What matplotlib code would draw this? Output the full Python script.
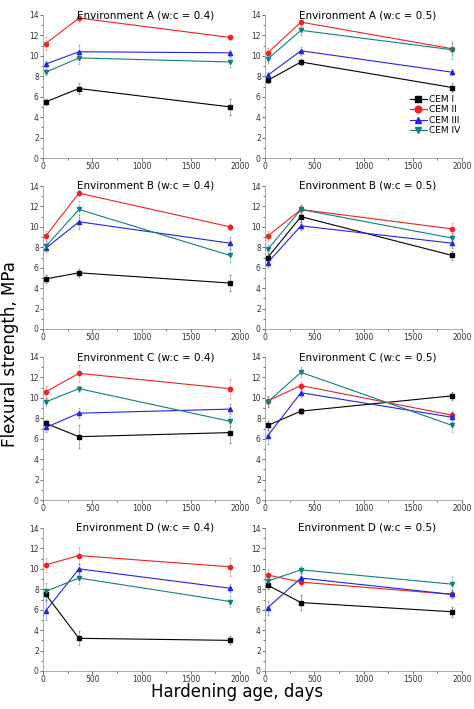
import matplotlib
matplotlib.use("Agg")
import matplotlib.pyplot as plt
from matplotlib.ticker import AutoMinorLocator

days = [28, 365, 1900]
series = ["CEM I", "CEM II", "CEM III", "CEM IV"]
colors = ["black", "#ee2222", "#2222ee", "#117f7f"]
markers = ["s", "o", "^", "v"]
titles = ["Environment A (w:c = 0.4)", "Environment A (w:c = 0.5)",
          "Environment B (w:c = 0.4)", "Environment B (w:c = 0.5)",
          "Environment C (w:c = 0.4)", "Environment C (w:c = 0.5)",
          "Environment D (w:c = 0.4)", "Environment D (w:c = 0.5)"]

A04 = [[5.5, 6.8, 5.0], [11.2, 13.7, 11.8], [9.2, 10.4, 10.3], [8.4, 9.8, 9.4]]
A05 = [[7.6, 9.4, 6.9], [10.3, 13.3, 10.7], [8.1, 10.5, 8.4], [9.7, 12.5, 10.6]]
B04 = [[4.9, 5.5, 4.5], [9.1, 13.3, 10.0], [7.9, 10.5, 8.4], [8.1, 11.7, 7.2]]
B05 = [[7.0, 11.0, 7.2], [9.1, 11.7, 9.8], [6.5, 10.1, 8.4], [7.8, 11.7, 8.9]]
C04 = [[7.5, 6.2, 6.6], [10.6, 12.4, 10.9], [7.1, 8.5, 8.9], [9.6, 10.9, 7.7]]
C05 = [[7.3, 8.7, 10.2], [9.7, 11.2, 8.3], [6.3, 10.5, 8.1], [9.6, 12.5, 7.3]]
D04 = [[7.5, 3.2, 3.0], [10.4, 11.3, 10.2], [5.9, 10.0, 8.1], [7.8, 9.1, 6.8]]
D05 = [[8.4, 6.7, 5.8], [9.4, 8.7, 7.5], [6.2, 9.1, 7.5], [8.8, 9.9, 8.5]]

errA04 = [[0.3, 0.5, 0.8], [0.6, 0.4, 0.2], [0.3, 0.7, 0.3], [0.3, 0.6, 0.5]]
errA05 = [[0.3, 0.3, 0.4], [0.5, 0.4, 0.6], [0.3, 0.4, 0.3], [0.4, 0.5, 0.9]]
errB04 = [[0.4, 0.4, 0.8], [0.5, 0.3, 0.3], [0.4, 0.7, 0.6], [0.4, 0.8, 0.6]]
errB05 = [[0.4, 0.5, 0.4], [0.5, 0.4, 0.6], [0.4, 0.4, 0.5], [0.5, 0.4, 0.5]]
errC04 = [[0.3, 1.1, 1.0], [0.6, 0.8, 0.9], [0.4, 0.5, 0.5], [0.4, 0.3, 0.5]]
errC05 = [[0.4, 0.3, 0.4], [0.5, 0.4, 0.4], [0.8, 0.4, 0.5], [0.5, 0.5, 0.6]]
errD04 = [[0.5, 0.7, 0.4], [0.7, 0.8, 0.9], [0.9, 0.5, 0.4], [0.8, 0.6, 0.5]]
errD05 = [[0.4, 0.7, 0.5], [0.5, 0.4, 0.4], [0.7, 0.5, 0.4], [0.5, 0.4, 0.8]]

data = [A04, A05, B04, B05, C04, C05, D04, D05]
errs = [errA04, errA05, errB04, errB05, errC04, errC05, errD04, errD05]

fig = plt.figure(figsize=(4.74, 7.09), dpi=100)
W, H = 474, 709
lefts = [43, 265]
tops = [15, 186, 357, 528]
pw, ph = 197, 143
axes = []
for i in range(8):
    r, c = divmod(i, 2)
    ax = fig.add_axes([lefts[c] / W, 1 - (tops[r] + ph) / H, pw / W, ph / H])
    for s in range(4):
        ax.errorbar(days, data[i][s], yerr=errs[i][s], fmt="none", ecolor=colors[s],
                    elinewidth=0.6, capsize=1, alpha=0.35)
        ax.plot(days, data[i][s], color=colors[s], marker=markers[s],
                ms=3, lw=0.8, label=series[s])
    ax.set_xlim(0, 2000)
    ax.set_ylim(0, 14)
    ax.set_xticks([0, 500, 1000, 1500, 2000])
    ax.set_yticks(range(0, 15, 2))
    ax.xaxis.set_minor_locator(AutoMinorLocator(2))
    ax.yaxis.set_minor_locator(AutoMinorLocator(2))
    ax.tick_params(labelsize=5.5, length=2, width=0.5, pad=1, colors="#333333")
    ax.tick_params(which="minor", length=1.2, width=0.4)
    for side in ["top", "right"]:
        ax.spines[side].set_visible(False)
    for side in ["left", "bottom"]:
        ax.spines[side].set_linewidth(0.5)
        ax.spines[side].set_color("#888888")
    ax.text(0.52, 1.0, titles[i], transform=ax.transAxes, ha="center", va="center", fontsize=7.5)
    axes.append(ax)

axes[1].legend(loc="center right", bbox_to_anchor=(1.02, 0.3), frameon=False, fontsize=6.5,
               handlelength=1.8, labelspacing=0.15, borderpad=0.1, handletextpad=0.3,
               markerscale=1.6)
fig.text(0.5, 1 - 692 / H, "Hardening age, days", ha="center", va="center", fontsize=12)
fig.text(0.022, 0.5, "Flexural strength, MPa", rotation=90, ha="center", va="center", fontsize=12)
fig.savefig("out.png", dpi=100)
